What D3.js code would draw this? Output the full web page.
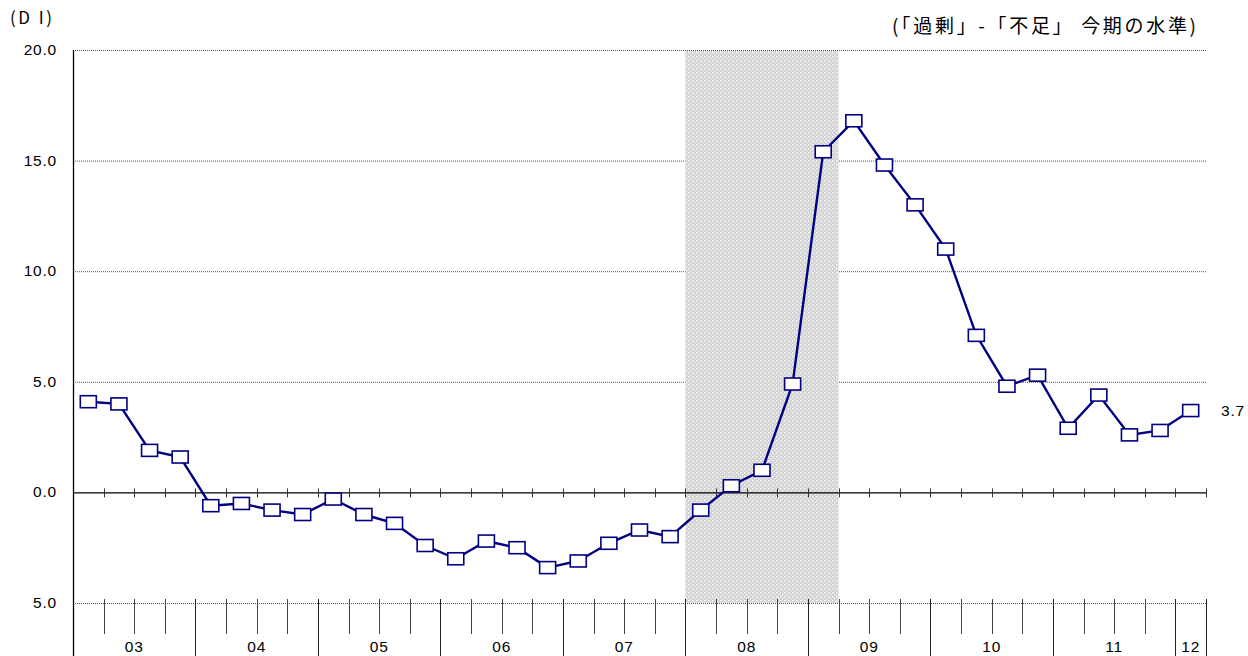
<!DOCTYPE html>
<html>
<head>
<meta charset="utf-8">
<script src="https://cdn.jsdelivr.net/npm/d3@7"></script>
<style>
  body { margin: 0; background: #fff; }
  svg { display: block; font-family: "Liberation Sans", Arial, sans-serif; }
</style>
</head>
<body>
<script>
// quarterly DI, 2003 Q1 .. 2012 Q1
var years = ["03", "04", "05", "06", "07", "08", "09", "10", "11", "12"];
var values = [4.1, 4.0, 1.9, 1.6, -0.6, -0.5, -0.8, -1.0,
              -0.3, -1.0, -1.4, -2.4, -3.0, -2.2, -2.5, -3.4,
              -3.1, -2.3, -1.7, -2.0, -0.8, 0.3, 1.0, 4.9,
              15.4, 16.8, 14.8, 13.0, 11.0, 7.1, 4.8, 5.3,
              2.9, 4.4, 2.6, 2.8, 3.7];
var yTicks = [20, 15, 10, 5, 0, -5];
var yTickLabels = ["20.0", "15.0", "10.0", "5.0", "0.0", "5.0"];
// recession shading, quarter slots (start, end)
var recession = [20, 25];

var W = 1248, H = 656;
// plot area (don't call it "top", that's window.top)
var pLeft = 73, pRight = 1206, pTop = 50, pBottom = 603;

var svg = d3.select("body").append("svg")
    .attr("width", W)
    .attr("height", H);

var n = values.length;
var x = d3.scaleLinear().domain([0, n]).range([pLeft, pRight]);
var y = d3.scaleLinear().domain([-5, 20]).range([pBottom, pTop]);

// hatch pattern for shaded area
var defs = svg.append("defs");
var pat = defs.append("pattern")
    .attr("id", "hatch")
    .attr("patternUnits", "userSpaceOnUse")
    .attr("width", 4).attr("height", 4);
pat.append("rect").attr("width", 4).attr("height", 4).attr("fill", "#d2d2d2");
pat.append("rect").attr("x", 0).attr("y", 0).attr("width", 1.4).attr("height", 1.4).attr("fill", "#ffffff");
pat.append("rect").attr("x", 2).attr("y", 2).attr("width", 1.4).attr("height", 1.4).attr("fill", "#f2f2f2");

// gridlines (dotted)
svg.append("g").selectAll("line")
    .data(yTicks.filter(function(d) { return d != 0; }))
  .enter().append("line")
    .attr("x1", pLeft).attr("x2", pRight)
    .attr("y1", function(d) { return y(d) + 0.5; })
    .attr("y2", function(d) { return y(d) + 0.5; })
    .attr("stroke", "#555")
    .attr("stroke-width", 1)
    .attr("stroke-dasharray", "1,1");

// shaded period
svg.append("rect")
    .attr("x", x(recession[0]))
    .attr("y", pTop + 1)
    .attr("width", x(recession[1]) - x(recession[0]))
    .attr("height", pBottom - pTop - 1)
    .attr("fill", "url(#hatch)");

// y labels
svg.append("g").selectAll("text")
    .data(yTicks)
  .enter().append("text")
    .attr("x", 57)
    .attr("y", function(d) { return y(d) + 5; })
    .attr("text-anchor", "end")
    .style("font-size", "15.5px")
    .style("letter-spacing", "0.8px")
    .attr("fill", "#000")
    .text(function(d, i) { return yTickLabels[i]; });

// zero line and its ticks
var bounds = d3.range(0, n + 1);
svg.append("line")
    .attr("x1", pLeft).attr("x2", pRight + 1)
    .attr("y1", y(0) + 0.5).attr("y2", y(0) + 0.5)
    .attr("stroke", "#000").attr("stroke-width", 1.3);
svg.append("g").selectAll("line")
    .data(bounds.slice(1))
  .enter().append("line")
    .attr("x1", function(d) { return Math.round(x(d)) + 0.5; })
    .attr("x2", function(d) { return Math.round(x(d)) + 0.5; })
    .attr("y1", y(0) - 4).attr("y2", y(0) + 5)
    .attr("stroke", "#333").attr("stroke-width", 1);

// lower axis ticks (quarters short, years long)
svg.append("g").selectAll("line")
    .data(bounds.slice(1))
  .enter().append("line")
    .attr("x1", function(d) { return Math.round(x(d)) + 0.5; })
    .attr("x2", function(d) { return Math.round(x(d)) + 0.5; })
    .attr("y1", pBottom - 4)
    .attr("y2", function(d) { return (d % 4 == 0 || d == n) ? H : 634; })
    .attr("stroke", function(d) { return (d % 4 == 0 || d == n) ? "#222" : "#444"; })
    .attr("stroke-width", 1);

// left axis
svg.append("line")
    .attr("x1", pLeft + 0.5).attr("x2", pLeft + 0.5)
    .attr("y1", pTop).attr("y2", H)
    .attr("stroke", "#000").attr("stroke-width", 1.3);

// year labels
svg.append("g").selectAll("text")
    .data(years)
  .enter().append("text")
    .attr("x", function(d, i) { return x(Math.min(i * 4 + 2, (i * 4 + n) / 2)); })
    .attr("y", 652)
    .attr("text-anchor", "middle")
    .style("font-size", "15.5px")
    .style("letter-spacing", "0.8px")
    .text(function(d) { return d; });

// line
var line = d3.line()
    .x(function(d, i) { return x(i + 0.5); })
    .y(function(d) { return y(d); });

svg.append("path")
    .datum(values)
    .attr("d", line)
    .attr("fill", "none")
    .attr("stroke", "#000080")
    .attr("stroke-width", 2.4);

// markers
svg.append("g").selectAll("rect")
    .data(values)
  .enter().append("rect")
    .attr("x", function(d, i) { return x(i + 0.5) - 8; })
    .attr("y", function(d) { return y(d) - 6; })
    .attr("width", 16)
    .attr("height", 12)
    .attr("fill", "#fff")
    .attr("stroke", "#000080")
    .attr("stroke-width", 1.6);

// last value label
svg.append("text")
    .attr("x", 1221)
    .attr("y", y(values[n - 1]) + 5)
    .style("font-size", "15.5px")
    .style("letter-spacing", "0.8px")
    .text(values[n - 1].toFixed(1));

// unit and title
svg.append("text")
    .attr("x", 10).attr("y", 24)
    .attr("textLength", 42)
    .attr("lengthAdjust", "spacing")
    .style("font-size", "17px")
    .style("font-family", "'Noto Sans CJK JP', sans-serif")
    .text("(D I)");

svg.append("text")
    .attr("x", 892).attr("y", 33)
    .attr("textLength", 304)
    .attr("lengthAdjust", "spacing")
    .style("font-size", "19px")
    .style("font-family", "'Noto Sans CJK JP', sans-serif")
    .text("(「過剰」-「不足」 今期の水準)");
</script>
</body>
</html>
